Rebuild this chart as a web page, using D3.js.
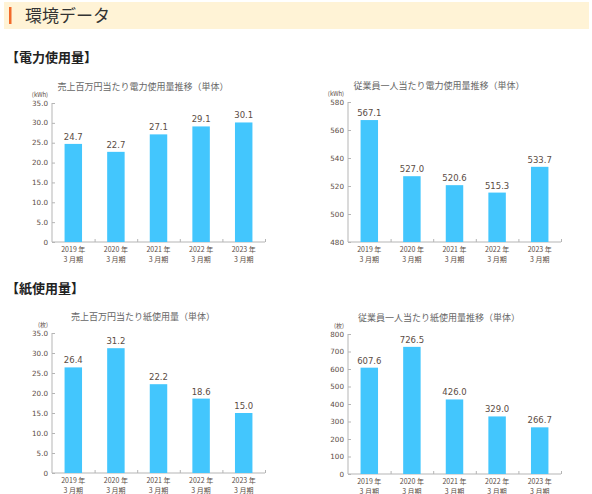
<!DOCTYPE html>
<html lang="ja">
<head>
<meta charset="UTF-8">
<title>環境データ</title>
<style>
body { margin: 0; background: #fff; }
svg text { font-family: "Noto Sans CJK JP", "DejaVu Sans", sans-serif; }
.num { font-family: "DejaVu Sans", sans-serif; }
</style>
</head>
<body>
<script src="https://cdn.jsdelivr.net/npm/d3@7"></script>
<script>
var years = ["2019 年", "2020 年", "2021 年", "2022 年", "2023 年"];
var periodLabel = "3 月期";

var elecPerSales = [24.7, 22.7, 27.1, 29.1, 30.1];
var elecPerEmployee = [567.1, 527.0, 520.6, 515.3, 533.7];
var paperPerSales = [26.4, 31.2, 22.2, 18.6, 15.0];
var paperPerEmployee = [607.6, 726.5, 426.0, 329.0, 266.7];

var ticksPerSales = [0, 5, 10, 15, 20, 25, 30, 35];
var ticksElecEmployee = [480, 500, 520, 540, 560, 580];
var ticksPaperEmployee = [0, 100, 200, 300, 400, 500, 600, 700, 800];

var W = 592, H = 494;
var textColor = "#5b4c44";
var axisColor = "#b5b5b5";
var barColor = "#43c6fd";

var svg = d3.select("body").append("svg")
    .attr("width", W)
    .attr("height", H);

// header band
svg.append("rect").attr("x", 4).attr("y", 2).attr("width", 585).attr("height", 27)
    .attr("fill", "#fff3d6");
svg.append("rect").attr("x", 9).attr("y", 7).attr("width", 2.5).attr("height", 17)
    .attr("fill", "#f26a2a");
svg.append("text").attr("x", 25).attr("y", 22)
    .attr("font-size", 17).attr("fill", "#333")
    .text("環境データ");

// section headings
svg.append("text").attr("x", 6).attr("y", 62)
    .attr("font-size", 13).attr("font-weight", "bold").attr("fill", "#222")
    .text("【電力使用量】");
svg.append("text").attr("x", 6).attr("y", 293)
    .attr("font-size", 13).attr("font-weight", "bold").attr("fill", "#222")
    .text("【紙使用量】");

function fmtTick(d, dec) {
    return d === 0 ? "0" : d.toFixed(dec);
}

function drawChart(opt) {
    var g = svg.append("g").attr("transform", "translate(" + opt.x0 + ",0)");
    var width = 213;

    var x = d3.scaleBand().domain(years).range([0, width]).paddingInner(0.59).paddingOuter(0.295);
    var y = d3.scaleLinear().domain(opt.domain).range([opt.bottom, opt.top]);

    g.append("text").attr("x", 91).attr("y", opt.top - 13)
        .attr("text-anchor", "middle").attr("font-size", 9).attr("fill", "#666")
        .text(opt.title);

    g.append("text").attr("x", opt.unitX).attr("y", opt.top - 6)
        .attr("text-anchor", "middle").attr("font-size", 6).attr("fill", textColor)
        .text(opt.unit);

    // y axis
    var yAxis = g.append("g")
        .call(d3.axisRight(y).tickValues(opt.ticks).tickSize(3).tickFormat(""));
    yAxis.select(".domain").attr("stroke", axisColor).attr("d", "M0," + opt.top + "V" + opt.bottom);
    yAxis.selectAll(".tick line").attr("stroke", axisColor);

    g.selectAll(".ylab").data(opt.ticks).enter().append("text")
        .attr("class", "num")
        .attr("x", -4).attr("y", function(d) { return y(d); })
        .attr("dy", "0.35em").attr("text-anchor", "end")
        .attr("font-size", 7.2).attr("fill", textColor)
        .text(function(d) { return fmtTick(d, opt.dec); });

    // x axis
    var xEdge = d3.scaleLinear().domain([0, years.length]).range([0, width]);
    var xAxis = g.append("g").attr("transform", "translate(0," + opt.bottom + ")")
        .call(d3.axisTop(xEdge).tickValues([1, 2, 3, 4, 5]).tickSize(3).tickFormat(""));
    xAxis.select(".domain").attr("stroke", axisColor).attr("d", "M0,0H" + width);
    xAxis.selectAll(".tick line").attr("stroke", axisColor);

    // bars
    g.selectAll(".bar").data(opt.values).enter().append("rect")
        .attr("x", function(d, i) { return x(years[i]); })
        .attr("y", function(d) { return y(d); })
        .attr("width", x.bandwidth())
        .attr("height", function(d) { return opt.bottom - y(d); })
        .attr("fill", barColor);

    g.selectAll(".val").data(opt.values).enter().append("text")
        .attr("class", "num")
        .attr("x", function(d, i) { return x(years[i]) + x.bandwidth() / 2; })
        .attr("y", function(d) { return y(d) - 4; })
        .attr("text-anchor", "middle").attr("font-size", 8.5).attr("fill", textColor)
        .text(function(d) { return d.toFixed(1); });

    // category labels, two lines each
    g.selectAll(".cat1").data(years).enter().append("text")
        .attr("x", function(d) { return x(d) + x.bandwidth() / 2; })
        .attr("y", opt.bottom + 10)
        .attr("text-anchor", "middle").attr("font-size", 7).attr("fill", textColor)
        .text(function(d) { return d; });
    g.selectAll(".cat2").data(years).enter().append("text")
        .attr("x", function(d) { return x(d) + x.bandwidth() / 2; })
        .attr("y", opt.bottom + 19.5)
        .attr("text-anchor", "middle").attr("font-size", 7).attr("fill", textColor)
        .text(periodLabel);
}

drawChart({ x0: 52, top: 103, bottom: 242, domain: [0, 35], ticks: ticksPerSales, dec: 1,
    values: elecPerSales, title: "売上百万円当たり電力使用量推移（単体）", unit: "(kWh)", unitX: -12 });
drawChart({ x0: 348, top: 102, bottom: 242, domain: [480, 580], ticks: ticksElecEmployee, dec: 0,
    values: elecPerEmployee, title: "従業員一人当たり電力使用量推移（単体）", unit: "(kWh)", unitX: -12 });
drawChart({ x0: 52, top: 333, bottom: 473, domain: [0, 35], ticks: ticksPerSales, dec: 1,
    values: paperPerSales, title: "売上百万円当たり紙使用量（単体）", unit: "(枚)", unitX: -9 });
drawChart({ x0: 348, top: 334, bottom: 474, domain: [0, 800], ticks: ticksPaperEmployee, dec: 0,
    values: paperPerEmployee, title: "従業員一人当たり紙使用量推移（単体）", unit: "(枚)", unitX: -9 });
</script>
</body>
</html>
